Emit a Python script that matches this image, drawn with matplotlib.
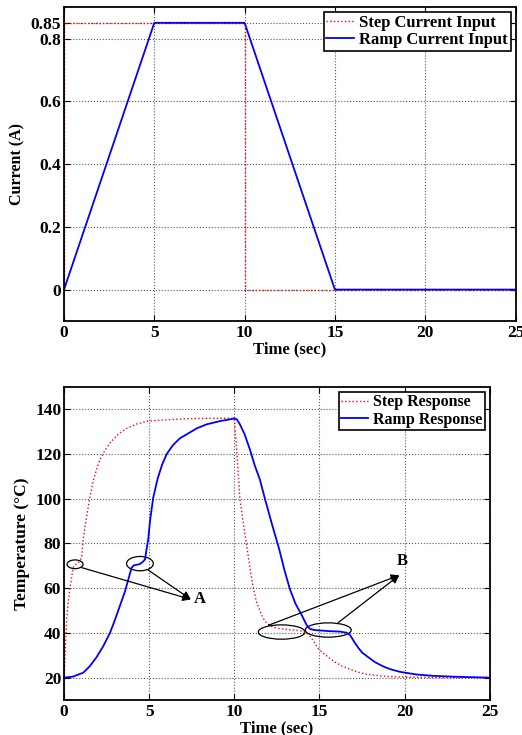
import numpy as np
import matplotlib
matplotlib.use("Agg")
import matplotlib.pyplot as plt
from matplotlib.patches import Ellipse

plt.rcParams['font.family'] = ['Liberation Serif', 'DejaVu Serif']
plt.rcParams['font.weight'] = 'bold'
plt.rcParams['axes.labelweight'] = 'bold'
plt.rcParams['font.size'] = 12

# current inputs (A)
step_t = [0, 0, 10, 10, 25]
step_i = [0, 0.85, 0.85, 0, 0]
ramp_t = [0, 5, 10, 15, 25]
ramp_i = [0, 0.85, 0.85, 0, 0]

# temperature responses (deg C)
step_resp_t = [0, 0.03, 0.08, 0.16, 0.25, 0.35, 0.45, 0.55, 0.75, 0.94, 1.04, 1.13,
               1.25, 1.37, 1.55, 1.75, 1.95, 2.11, 2.4, 2.7, 3.2, 3.68, 4.3, 4.95,
               6.0, 7.2, 8.5, 10.0, 10.14, 10.33, 10.55, 10.73, 10.92, 11.12, 11.3,
               11.5, 11.7, 11.9, 12.2, 12.68, 13.4, 13.86, 14.2, 14.35, 14.6, 14.93,
               15.3, 15.8, 16.3, 16.8, 17.3, 17.77, 18.7, 19.7, 21, 23, 25]
step_resp_T = [20, 24, 33, 46, 54, 60, 65, 69.5, 71, 72.2, 74, 82,
               88, 94, 102, 109, 114, 117.6, 121.5, 125, 129, 131.5, 133.5, 134.8,
               135.3, 135.8, 136, 136, 122, 100, 88, 79, 69, 60, 54,
               50, 46.5, 44.5, 42.8, 41.9, 41.3, 41, 40.2, 39.4, 37, 33,
               30.5, 27.5, 25.3, 23.7, 22.4, 21.5, 20.7, 20.3, 20.1, 20, 20]

ramp_resp_t = [0, 0.5, 1.13, 1.5, 1.9, 2.3, 2.7, 3.0, 3.3, 3.58, 3.78, 3.97, 4.1,
               4.46, 4.66, 4.76, 4.86, 4.95, 5.05, 5.24, 5.5, 5.75, 6.03, 6.4, 6.8,
               7.2, 7.8, 8.38, 9.2, 9.94, 10.0, 10.15, 10.33, 10.6, 10.92, 11.2,
               11.5, 11.8, 12.2, 12.64, 12.95, 13.27, 13.6, 13.96, 14.25, 14.45,
               14.7, 15.03, 15.6, 16.2, 16.6, 16.8, 17.05, 17.28, 17.5, 17.77, 18.25,
               18.75, 19.2, 19.73, 20.7, 21.7, 23, 25]
ramp_resp_T = [20, 20.4, 22.2, 25, 29, 34, 40, 46, 52.5, 58.5, 64, 69.2, 70.2,
               70.8, 72, 73, 78, 82, 90, 100.5, 109, 115, 120, 124, 127,
               128.8, 131.5, 133.3, 134.8, 135.8, 136, 135.5, 133.3, 129, 122, 115,
               108.7, 100, 89, 77.4, 68, 59.5, 53, 48, 43.5, 41.8,
               41.3, 41.1, 40.8, 40.6, 40.1, 39, 36, 33.4, 31.3, 29.7, 27,
               25, 23.7, 22.6, 21.4, 20.8, 20.4, 20]

# annotation marks: (center t, center T, width, height)
ellipses = [(0.65, 70.7, 0.94, 3.9), (4.46, 71.0, 1.57, 6.4),
            (12.78, 40.4, 2.74, 6.4), (15.52, 41.3, 2.7, 6.4)]
arrows_a = [(1.04, 69.2), (4.95, 68.1)]
head_a = (7.45, 55.0)
arrows_b = [(12.0, 43.4), (16.1, 44.6)]
head_b = (19.69, 65.8)


def style_axes(ax):
    for s in ax.spines.values():
        s.set_linewidth(1.3)
    ax.tick_params(direction='in', top=True, right=True, length=4, width=0.8,
                   labelsize=12.5)
    ax.tick_params(axis='y', pad=2)
    ax.tick_params(axis='x', pad=3)
    ax.grid(True, linestyle=':', color='0.35', linewidth=0.8)
    ax.set_axisbelow(True)


fig = plt.figure(figsize=(5.22, 7.35), dpi=100)

ax1 = fig.add_axes([0.1226, 0.5633, 0.865, 0.427])
ax1.plot(step_t, step_i, color='red', linestyle=':', linewidth=1.0, label='Step Current Input')
ax1.plot(ramp_t, ramp_i, color='blue', linewidth=1.3, label='Ramp Current Input')
ax1.set_xlim(0, 25)
ax1.set_ylim(-0.1, 0.9)
ax1.set_xticks([0, 5, 10, 15, 20, 25])
ax1.set_yticks([0, 0.2, 0.4, 0.6, 0.8, 0.85])
ax1.set_yticklabels(['0', '0.2', '0.4', '0.6', '0.8', '0.85'])
ax1.set_xlabel('Time (sec)', labelpad=0)
ax1.set_ylabel('Current (A)', labelpad=4, fontsize=11.5)
style_axes(ax1)
leg1 = ax1.legend(loc='upper right', fancybox=False, edgecolor='black', framealpha=1,
                  handlelength=1.7, handletextpad=0.3, labelspacing=0.1,
                  borderpad=0.15, borderaxespad=0.3, fontsize=12)
leg1.get_frame().set_linewidth(1.2)

ax2 = fig.add_axes([0.1226, 0.0476, 0.8155, 0.4259])
ax2.plot(step_resp_t, step_resp_T, color='red', linestyle=':', linewidth=1.0, label='Step Response')
ax2.plot(ramp_resp_t, ramp_resp_T, color='blue', linewidth=1.3, label='Ramp Response')
ax2.set_xlim(0, 25)
ax2.set_ylim(10, 150)
ax2.set_xticks([0, 5, 10, 15, 20, 25])
ax2.set_yticks([20, 40, 60, 80, 100, 120, 140])
ax2.set_xlabel('Time (sec)', labelpad=0)
ax2.set_ylabel('Temperature (°C)', labelpad=4, fontsize=12.5)
style_axes(ax2)
leg2 = ax2.legend(loc='upper right', fancybox=False, edgecolor='black', framealpha=1,
                  handlelength=1.7, handletextpad=0.3, labelspacing=0.1,
                  borderpad=0.15, borderaxespad=0.3, fontsize=11.5)
leg2.get_frame().set_linewidth(1.2)

for cx, cy, w, h in ellipses:
    ax2.add_patch(Ellipse((cx, cy), w, h, fill=False, edgecolor='black', linewidth=0.9))

for tail in arrows_a:
    ax2.annotate('', xy=head_a, xytext=tail,
                 arrowprops=dict(arrowstyle='-|>', color='black', lw=0.9,
                                 mutation_scale=12, shrinkA=0, shrinkB=0))
for tail in arrows_b:
    ax2.annotate('', xy=head_b, xytext=tail,
                 arrowprops=dict(arrowstyle='-|>', color='black', lw=0.9,
                                 mutation_scale=12, shrinkA=0, shrinkB=0))
ax2.text(7.6, 55, 'A', ha='left', va='center', fontsize=12, fontweight='bold')
ax2.text(19.85, 72.2, 'B', ha='center', va='center', fontsize=12, fontweight='bold')

fig.savefig('out.png', dpi=100)
